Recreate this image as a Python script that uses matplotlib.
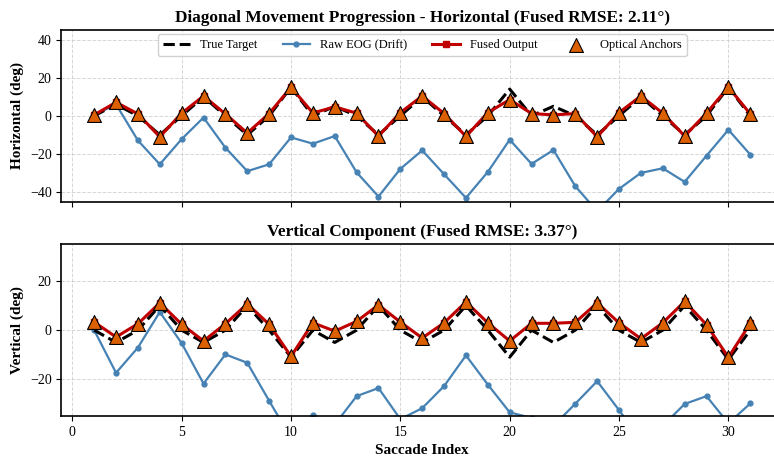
import matplotlib
matplotlib.use("Agg")
import matplotlib.pyplot as plt
import numpy as np

plt.rcParams['font.family'] = ['Liberation Serif', 'DejaVu Serif']
plt.rcParams['axes.linewidth'] = 1.2

# saccade indices
saccade = np.arange(1, 32)

# horizontal component (deg)
true_h = [0, 6, 0, -10, 0, 10, 0, -10, 0, 15, 0, 5, 0, -10, 0, 10,
          0, -10, 0, 14, 0, 5, 0, -10, 0, 10, 0, -10, 0, 15, 0]
raw_h = [0.5, 6.0, -12.9, -25.4, -12.2, -0.9, -16.7, -29.0, -25.4, -11.3, -14.6,
         -10.6, -29.6, -42.3, -27.8, -18.1, -30.6, -43.0, -29.4, -12.5, -25.2,
         -17.9, -36.9, -50.0, -38.3, -29.9, -27.5, -34.6, -20.9, -7.3, -20.3]
fused_h = [0.5, 7.1, 1.0, -11.0, 1.4, 10.4, 1.0, -9.0, 1.2, 15.0, 1.5, 4.7, 1.4,
           -10.6, 1.7, 10.4, 1.2, -10.8, 1.7, 8.5, 1.2, 0.5, 1.2, -11.0, 1.7,
           10.4, 1.4, -10.6, 1.4, 15.1, 1.0]

# vertical component (deg)
true_v = [0, -5, 0, 10, 0, -5, 0, 10, 0, -11, 0, -5, 0, 10, 0, -5,
          0, 10, 0, -11, 0, -5, 0, 10, 0, -5, 0, 10, 0, -12, 0]
raw_v = [0.0, -17.4, -7.1, 7.4, -5.3, -21.8, -9.9, -13.3, -28.8, -44.0, -34.5,
         -38.5, -26.9, -23.6, -36.3, -31.8, -22.8, -10.3, -22.2, -33.5, -35.8,
         -39.0, -30.0, -20.8, -32.6, -45.0, -39.0, -30.1, -26.9, -38.0, -29.9]
fused_v = [3.3, -2.8, 2.6, 11.1, 2.4, -4.4, 2.6, 10.7, 2.4, -10.7, 3.0, -0.4,
           3.6, 10.3, 3.3, -3.2, 3.0, 11.5, 3.0, -4.4, 2.8, 2.8, 3.2, 11.1, 3.0,
           -3.5, 3.0, 11.7, 2.2, -11.1, 2.8]

rmse_h = 2.11
rmse_v = 3.37

fig = plt.figure(figsize=(7.74, 4.63), dpi=100)
ax1 = fig.add_axes([0.0793, 0.5644, 0.9324, 0.3708])
ax2 = fig.add_axes([0.0793, 0.1015, 0.9324, 0.3708], sharex=ax1)


def draw_panel(ax, true, raw, fused):
    ax.grid(True, linestyle='--', color='#cccccc', linewidth=0.7, alpha=0.8)
    ax.set_axisbelow(True)
    ax.plot(saccade, true, 'k--', linewidth=2.2, label='True Target', zorder=3)
    ax.plot(saccade, raw, color='#4682B4', marker='o', markersize=3.5,
            linewidth=1.6, label='Raw EOG (Drift)', zorder=2)
    ax.plot(saccade, fused, color='#C00000', marker='s', markersize=4,
            linewidth=2.2, label='Fused Output', zorder=4)
    ax.scatter(saccade, fused, marker='^', s=100, color='#DD6000',
               edgecolors='black', linewidths=0.8, label='Optical Anchors', zorder=5)
    ax.tick_params(labelsize=10)


draw_panel(ax1, true_h, raw_h, fused_h)
ax1.set_ylim(-45, 45)
ax1.set_yticks([-40, -20, 0, 20, 40])
ax1.set_ylabel('Horizontal (deg)', fontsize=11, fontweight='bold')
ax1.set_title(f'Diagonal Movement Progression - Horizontal (Fused RMSE: {rmse_h:.2f}°)',
              fontsize=12.4, fontweight='bold', pad=6)
ax1.legend(loc='upper center', ncol=4, fontsize=9, framealpha=0.9,
           handlelength=2.2, columnspacing=2.0, borderaxespad=0.35)
plt.setp(ax1.get_xticklabels(), visible=False)

draw_panel(ax2, true_v, raw_v, fused_v)
ax2.set_ylim(-35, 35)
ax2.set_yticks([-20, 0, 20])
ax2.set_ylabel('Vertical (deg)', fontsize=11, fontweight='bold')
ax2.set_title(f'Vertical Component (Fused RMSE: {rmse_v:.2f}°)',
              fontsize=12.4, fontweight='bold', pad=6)
ax2.set_xlabel('Saccade Index', fontsize=11, fontweight='bold')

ax1.set_xlim(-0.5, 32.5)
ax1.set_xticks([0, 5, 10, 15, 20, 25, 30])

fig.savefig('out.png', dpi=100)
